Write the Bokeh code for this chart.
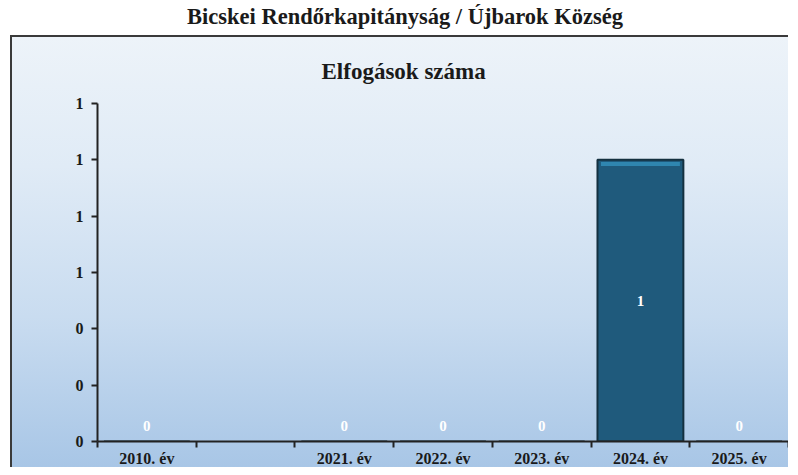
from bokeh.plotting import figure
from bokeh.models import (ColumnDataSource, FixedTicker, NumeralTickFormatter, Div, Spacer,
                          Range1d, LinearAxis)
from bokeh.layouts import column, row
from bokeh.embed import file_html
from bokeh.resources import INLINE
from bokeh.core.properties import value

page_title = "Bicskei Rendőrkapitányság / Újbarok Község"
chart_title = "Elfogások száma"
categories = ["2010. év", " ", "2021. év", "2022. év", "2023. év", "2024. év", "2025. év"]
arrests = [0, None, 0, 0, 0, 1, 0]
y_ticks = [0, 0.2, 0.4, 0.6, 0.8, 1.0, 1.2]

FONT = "Liberation Serif"

centers = [i + 0.5 for i in range(len(categories))]
shown = [(x, v) for x, v in zip(centers, arrests) if v is not None]
src = ColumnDataSource(dict(
    x=[x for x, _ in shown],
    val=[v for _, v in shown],
    lab=[str(v) for _, v in shown],
    ly=[max(v / 2, 0.055) for _, v in shown],
))
pos = [(x, v) for x, v in shown if v > 0]
bevel = ColumnDataSource(dict(x=[x for x, _ in pos], top=[v - 0.008 for _, v in pos],
                              bottom=[v - 0.022 for _, v in pos]))

p = figure(x_range=Range1d(0, len(categories)), y_range=Range1d(0, y_ticks[-1]),
           width=778, height=432, output_backend="svg", toolbar_location=None,
           x_axis_location=None, y_axis_location="left",
           min_border_left=85, min_border_right=2, min_border_top=66, min_border_bottom=27)

p.background_fill_alpha = 0
p.border_fill_alpha = 0
p.outline_line_color = None
p.grid.visible = False
p.styles = {
    "background": "linear-gradient(to bottom, #edf3f9 0%, #e0ebf6 30%, #c9dcf0 65%, #a8c6e6 100%)",
    "border-top": "2px solid #3a3a3a",
    "border-left": "2px solid #3a3a3a",
}

p.title.text = chart_title
p.title.align = "left"
p.title.offset = 224
p.title.standoff = 39
p.title.text_font = FONT
p.title.text_font_size = "23px"
p.title.text_font_style = "bold"
p.title.text_color = "#1a1a1a"

# y axis
ya = p.yaxis[0]
ya.ticker = FixedTicker(ticks=y_ticks)
ya.formatter = NumeralTickFormatter(format="0")
ya.axis_line_width = 2
ya.axis_line_color = "#222222"
ya.major_tick_line_width = 2
ya.major_tick_line_color = "#222222"
ya.major_tick_out = 6
ya.major_tick_in = 0
ya.minor_tick_line_color = None
ya.major_label_standoff = 8
ya.major_label_text_font = FONT
ya.major_label_text_font_style = "bold"
ya.major_label_text_font_size = "16px"
ya.major_label_text_color = "#1a1a1a"

# x axis: labels at category centres, tick marks (minor) at boundaries
label_ticks = [c for c, lab in zip(centers, categories) if lab.strip()]
xa = LinearAxis(ticker=FixedTicker(ticks=label_ticks,
                                   minor_ticks=list(range(len(categories) + 1))),
                major_label_overrides={c: lab for c, lab in zip(centers, categories)})
xa.axis_line_width = 2
xa.axis_line_color = "#222222"
xa.major_tick_line_color = None
xa.major_tick_out = 6
xa.major_tick_in = 0
xa.minor_tick_line_color = "#222222"
xa.minor_tick_line_width = 2
xa.minor_tick_out = 6
xa.minor_tick_in = 0
xa.major_label_standoff = 2
xa.major_label_text_font = FONT
xa.major_label_text_font_style = "bold"
xa.major_label_text_font_size = "16px"
xa.major_label_text_color = "#1a1a1a"
p.add_layout(xa, "below")

p.vbar(x="x", top="val", width=0.87, source=src,
       fill_color="#1f5a7c", line_color="#14303f", line_width=2)
p.vbar(x="x", top="top", bottom="bottom", width=0.8, source=bevel,
       fill_color="#2f86b0", line_color=None)

p.text(x="x", y="ly", text="lab", source=src, text_color="white",
       text_font=value(FONT), text_font_style="bold", text_font_size="15px",
       text_align="center", text_baseline="middle")

head = Div(text=page_title, width=790, height=25,
           styles={"text-align": "center", "font-family": FONT, "font-weight": "bold",
                   "font-size": "22.5px", "color": "#1a1a1a", "line-height": "24px",
                   "width": "790px", "text-indent": "10px"})

layout = column(head, row(Spacer(width=10), p))

open("out.html", "w").write(file_html(layout, INLINE))
